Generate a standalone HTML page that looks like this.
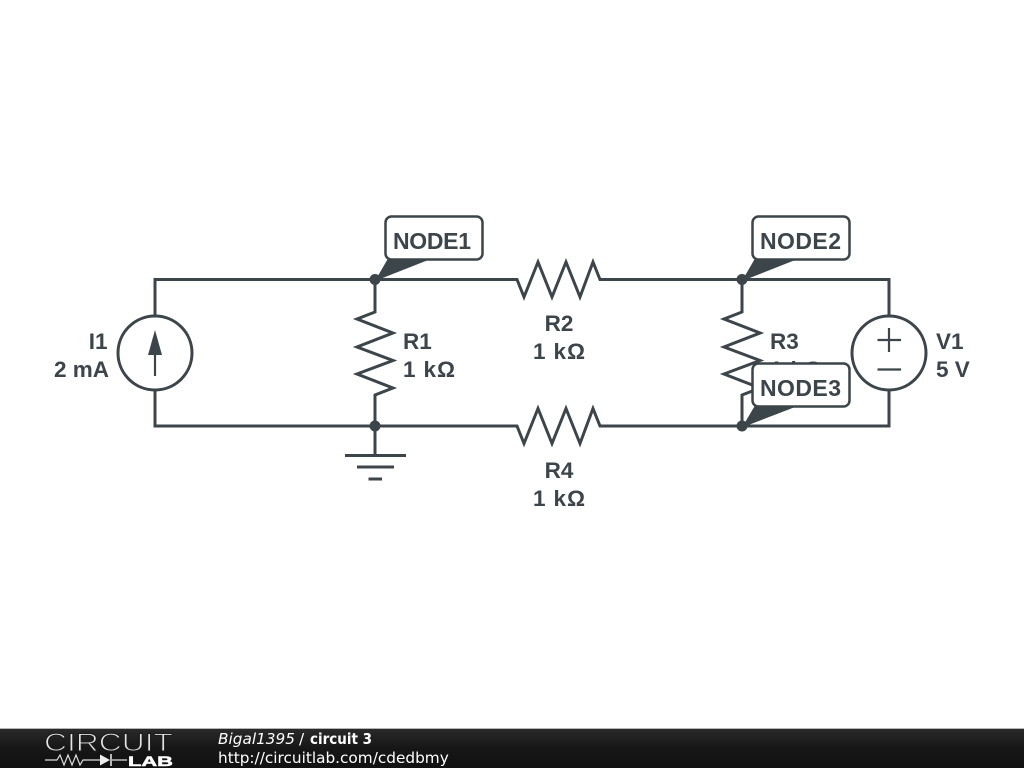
<!DOCTYPE html>
<html>
<head>
<meta charset="utf-8">
<style>
html,body{margin:0;padding:0;background:#fff;width:1024px;height:768px;overflow:hidden}
svg{display:block}
.t{font-family:"Liberation Sans",sans-serif;font-weight:700;font-size:22.5px;fill:#3c4549}
.n{font-family:"Liberation Sans",sans-serif;font-weight:700;font-size:23px;fill:#3c4549}
.f{font-family:"DejaVu Sans",sans-serif;font-size:15.3px;fill:#fff}
</style>
</head>
<body>
<svg width="1024" height="768" viewBox="0 0 1024 768" xmlns="http://www.w3.org/2000/svg">
<defs>
<linearGradient id="g" x1="0" y1="0" x2="0" y2="1"><stop offset="0" stop-color="#2a2a2a"/><stop offset="0.5" stop-color="#161616"/><stop offset="1" stop-color="#111"/></linearGradient>
</defs>
<rect width="1024" height="768" fill="#fff"/>
<g fill="none" stroke="#3c4549" stroke-width="3">
<path d="M155 316V279.500H517L524 297L538 262L552 297L566 262L580 297L593 262L600 279.500H889V316"/>
<path d="M155 390V426H517L524 443.500L538 408.500L552 443.500L566 408.500L580 443.500L593 408.500L600 426H889V390"/>
<path d="M375 279.500V312L357 319L393 333L357 347L393 360.500L357 374L393 388L375 395V455"/>
<path d="M742 279.500V312L724 319L760 333L724 347L760 360.500L724 374L760 388L742 395V426"/>
<circle cx="155" cy="353" r="37"/>
<circle cx="889" cy="353" r="37"/>
<path d="M345 455.500H406M357 467H394M368.500 479H382"/>
</g>
<path d="M155 350V376M877.500 340H901M889 328V352M877.500 369.500H901" fill="none" stroke="#3c4549" stroke-width="2.200"/>
<path d="M155 330L162 355H148Z" fill="#3c4549"/>
<g fill="#3c4549">
<circle cx="375" cy="279.500" r="5.500"/>
<circle cx="742" cy="279.500" r="5.500"/>
<circle cx="375" cy="426" r="5.500"/>
<circle cx="742" cy="426" r="5.500"/>
</g>
<text class="t" x="107.500" y="349" text-anchor="end">I1</text>
<text class="t" x="109" y="377" text-anchor="end">2 mA</text>
<text class="t" x="403" y="349">R1</text>
<text class="t" x="403" y="377" textLength="52">1 kΩ</text>
<text class="t" x="770" y="349">R3</text>
<text class="t" x="770" y="377" textLength="52">1 kΩ</text>
<text class="t" x="936" y="349">V1</text>
<text class="t" x="936" y="377">5 V</text>
<text class="t" x="559" y="331" text-anchor="middle">R2</text>
<text class="t" x="533" y="359" textLength="52">1 kΩ</text>
<text class="t" x="559" y="478" text-anchor="middle">R4</text>
<text class="t" x="533" y="506" textLength="52">1 kΩ</text>

<g>
<rect x="385.500" y="216.500" width="97" height="43" rx="6" fill="#fff" stroke="#3c4549" stroke-width="2.500"/>
<path d="M375 281L388 258.500H432Z" fill="#3c4549"/>
<text class="n" x="393" y="249" textLength="78">NODE1</text>
</g>
<g>
<rect x="752.500" y="216.500" width="97" height="43" rx="6" fill="#fff" stroke="#3c4549" stroke-width="2.500"/>
<path d="M742 281L755 258.500H799Z" fill="#3c4549"/>
<text class="n" x="760" y="249" textLength="81">NODE2</text>
</g>
<g>
<rect x="752.500" y="363.500" width="97" height="43" rx="6" fill="#fff" stroke="#3c4549" stroke-width="2.500"/>
<path d="M742 427.500L755 405.500H799Z" fill="#3c4549"/>
<text class="n" x="760" y="396" textLength="81">NODE3</text>
</g>

<rect x="0" y="729" width="1024" height="39" fill="url(#g)"/>
<rect x="0" y="728" width="1024" height="1" fill="#b5b5b5"/>
<text x="44" y="751" font-family="Liberation Sans, sans-serif" font-size="25" textLength="129" lengthAdjust="spacingAndGlyphs" fill="#e4e4e4" stroke="#1c1c1c" stroke-width="1">CIRCUIT</text>
<path d="M45 760H57L60 755L64 765L68 755L72 765L76 755L80 765L83 760H100M112 760H127" fill="none" stroke="#ddd" stroke-width="1.200"/>
<path d="M100 754.500L110 760L100 765.500Z" fill="#eee"/>
<path d="M111 754V766" stroke="#eee" stroke-width="1.500"/>
<text x="128" y="766" font-family="Liberation Sans, sans-serif" font-weight="700" font-size="14" textLength="45" lengthAdjust="spacingAndGlyphs" fill="#fff" stroke="#fff" stroke-width="0.500">LAB</text>
<text class="f" x="218" y="744" font-style="italic">Bigal1395</text>
<text class="f" x="299" y="744">/</text>
<text class="f" x="310" y="744" font-weight="700" font-size="14.5" textLength="62" lengthAdjust="spacingAndGlyphs">circuit 3</text>
<text class="f" x="218" y="763">http://circuitlab.com/cdedbmy</text>
</svg>
</body>
</html>
